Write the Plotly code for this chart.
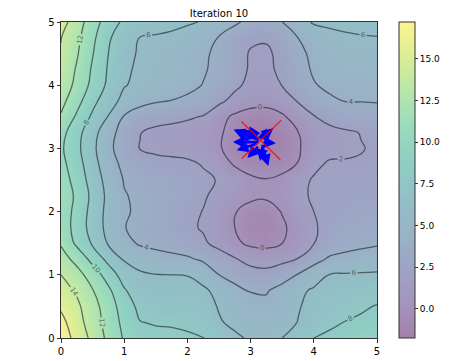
import plotly.graph_objects as go
import plotly.colors as pc

# grid coordinates
xs = [i * 0.25 for i in range(21)]
ys = [i * 0.25 for i in range(21)]

# surface values, rows from y=0 (bottom) to y=5 (top)
z_y000 = [17.2, 15.3, 13.5, 11.5, 9.8, 8.9, 8.5, 8.4, 8.25, 8.05, 7.3, 6.4, 5.7, 5.4, 6.0, 7.0, 8.0, 8.5, 8.9, 9.1, 9.3]
z_y025 = [16.6, 14.8, 13.0, 11.25, 9.45, 8.05, 7.85, 7.8, 7.65, 7.45, 6.2, 5.5, 5.05, 4.95, 5.3, 6.05, 6.9, 7.5, 8.05, 8.3, 8.6]
z_y050 = [15.7, 14.4, 12.75, 11.0, 9.05, 7.5, 7.25, 7.2, 7.05, 6.85, 5.85, 5.0, 4.55, 4.45, 4.9, 5.85, 6.6, 7.1, 7.45, 7.75, 8.1]
z_y075 = [14.8, 13.75, 12.1, 10.4, 8.2, 6.9, 6.65, 6.6, 6.5, 6.3, 5.5, 4.6, 3.9, 3.85, 4.7, 5.6, 6.25, 6.6, 6.85, 7.05, 7.2]
z_y100 = [14.0, 12.7, 11.1, 9.1, 7.1, 6.3, 6.05, 6.0, 5.95, 5.3, 4.0, 3.2, 2.6, 2.5, 3.1, 4.1, 5.1, 6.05, 6.15, 6.2, 6.25]
z_y125 = [12.8, 11.4, 9.35, 7.4, 5.8, 5.1, 4.6, 4.45, 4.25, 3.7, 2.8, 2.1, 1.5, 1.3, 1.55, 2.05, 3.3, 4.25, 4.5, 4.7, 4.9]
z_y150 = [11.8, 9.6, 7.75, 5.8, 4.55, 3.8, 3.6, 3.3, 2.85, 2.25, 1.5, 0.4, -0.4, -0.6, 0.0, 1.0, 1.95, 2.9, 3.35, 3.6, 3.8]
z_y175 = [11.3, 9.2, 7.25, 5.4, 4.05, 3.6, 3.15, 2.75, 2.3, 1.85, 1.0, 0.0, -0.8, -0.95, -0.3, 0.75, 1.8, 2.6, 3.0, 3.2, 3.3]
z_y200 = [11.2, 9.4, 7.3, 5.4, 4.2, 3.7, 3.3, 2.9, 2.45, 1.95, 1.2, 0.1, -0.65, -0.8, 0.1, 1.2, 2.0, 2.45, 2.7, 2.8, 2.9]
z_y225 = [11.4, 9.6, 7.5, 5.5, 4.1, 3.7, 3.35, 3.0, 2.65, 2.2, 1.5, 0.85, 0.4, 0.3, 0.65, 1.55, 2.25, 2.45, 2.5, 2.55, 2.6]
z_y250 = [11.0, 9.25, 7.15, 5.25, 3.9, 3.45, 3.15, 2.9, 2.65, 2.3, 1.9, 1.2, 0.35, 0.08, 0.4, 1.5, 2.15, 2.3, 2.3, 2.35, 2.4]
z_y275 = [10.6, 8.85, 6.75, 4.8, 3.55, 2.9, 2.55, 2.4, 2.3, 1.9, 1.0, -0.2, -0.8, -0.9, -0.6, 0.05, 1.65, 2.2, 2.15, 2.1, 2.2]
z_y300 = [10.3, 8.5, 6.45, 4.45, 3.05, 1.95, 1.65, 1.55, 1.4, 1.0, 0.2, -0.9, -1.5, -1.75, -1.2, -0.2, 1.0, 1.5, 1.7, 1.95, 2.15]
z_y325 = [10.7, 8.65, 6.75, 4.65, 3.3, 2.05, 1.6, 1.45, 1.3, 1.0, 0.3, -0.8, -1.5, -1.7, -1.1, -0.05, 1.0, 1.5, 1.8, 2.05, 2.3]
z_y350 = [11.8, 9.7, 7.65, 5.9, 3.85, 3.0, 2.65, 2.45, 2.2, 1.9, 0.65, -0.35, -0.9, -0.95, -0.3, 0.9, 1.9, 2.55, 2.9, 3.1, 3.3]
z_y375 = [12.6, 10.7, 8.55, 6.85, 5.45, 4.6, 4.15, 3.95, 3.7, 3.2, 2.4, 1.4, 0.8, 0.7, 1.2, 2.1, 3.1, 3.75, 4.05, 4.05, 4.1]
z_y400 = [13.2, 11.5, 9.45, 7.6, 6.1, 5.6, 5.2, 4.8, 4.4, 3.95, 3.3, 2.4, 1.5, 1.3, 2.05, 3.0, 3.9, 4.3, 4.45, 4.5, 4.6]
z_y425 = [13.6, 11.8, 9.75, 7.8, 6.3, 5.7, 5.35, 5.0, 4.6, 4.15, 3.6, 2.75, 1.8, 1.6, 2.4, 3.35, 4.2, 4.6, 4.8, 4.9, 5.0]
z_y450 = [13.9, 12.2, 10.1, 8.0, 6.4, 5.85, 5.5, 5.15, 4.75, 4.25, 3.65, 2.75, 1.85, 1.7, 2.5, 3.55, 4.4, 4.85, 5.1, 5.25, 5.4]
z_y475 = [14.05, 12.5, 10.45, 8.25, 6.9, 5.95, 5.85, 5.7, 5.35, 4.8, 3.9, 3.0, 2.3, 2.2, 3.0, 4.0, 4.9, 5.4, 5.75, 5.9, 5.95]
z_y500 = [14.8, 13.0, 10.85, 9.1, 7.6, 6.9, 6.6, 6.4, 6.2, 5.9, 5.0, 4.3, 3.5, 3.3, 4.0, 5.2, 6.2, 6.4, 6.45, 6.45, 6.5]

Z = [z_y000, z_y025, z_y050, z_y075, z_y100, z_y125, z_y150, z_y175, z_y200, z_y225,
     z_y250, z_y275, z_y300, z_y325, z_y350, z_y375, z_y400, z_y425, z_y450, z_y475, z_y500]

z_min = -1.75
z_max = 17.2
contour_levels = dict(start=0, end=16, size=2)
cbar_ticks = [0, 2.5, 5.0, 7.5, 10.0, 12.5, 15.0]
cbar_labels = ["0.0", "2.5", "5.0", "7.5", "10.0", "12.5", "15.0"]
axis_ticks = [0, 1, 2, 3, 4, 5]

# quiver arrows (tail -> tip)
arrow_tail_x = [3.15, 3.15, 3.12, 3.18, 3.15, 3.12, 3.18, 3.14, 3.10, 3.20, 3.20, 3.13]
arrow_tail_y = [3.12, 3.10, 3.08, 3.05, 3.15, 3.12, 3.10, 3.05, 3.15, 3.08, 3.15, 3.18]
arrow_tip_x = [2.73, 2.72, 2.78, 3.28, 3.36, 2.98, 3.40, 2.95, 2.80, 3.15, 3.25, 2.85]
arrow_tip_y = [3.30, 3.10, 2.97, 2.72, 3.32, 3.35, 3.08, 2.85, 3.22, 2.80, 3.32, 3.28]

# red cross lines
red_x0 = [2.83, 3.51]
red_y0 = [3.45, 3.47]
red_x1 = [3.47, 2.86]
red_y1 = [2.82, 2.84]


def blend(hexcol, a=0.5):
    r, g, b = pc.hex_to_rgb(hexcol)
    return "rgb(%d,%d,%d)" % (round(r * a + 255 * (1 - a)), round(g * a + 255 * (1 - a)), round(b * a + 255 * (1 - a)))


vir = pc.sequential.Viridis
cscale = [[i / (len(vir) - 1), blend(c)] for i, c in enumerate(vir)]

fig = go.Figure()
fig.add_trace(go.Heatmap(
    x=xs, y=ys, z=Z, colorscale=cscale, zmin=z_min, zmax=z_max, zsmooth="best",
    hoverinfo="skip",
    colorbar=dict(
        thickness=16, len=1, lenmode="fraction", y=0.5, yanchor="middle",
        x=1.07, xanchor="left", xpad=0, ypad=0,
        outlinewidth=1, outlinecolor="#333",
        tickvals=cbar_ticks, ticktext=cbar_labels, ticks="outside", ticklen=3,
        tickcolor="#333", tickfont=dict(size=9, color="black", family="DejaVu Sans"),
    ),
))
fig.add_trace(go.Contour(
    x=xs, y=ys, z=Z, showscale=False, hoverinfo="skip",
    contours=dict(start=contour_levels["start"], end=contour_levels["end"], size=contour_levels["size"],
                  coloring="none", showlabels=True,
                  labelfont=dict(size=7, color="rgba(60,60,60,0.75)", family="DejaVu Sans")),
    line=dict(color="rgba(30,35,45,0.62)", width=1.3, smoothing=1.3),
))

ann = []
for tx, ty, hx, hy in zip(arrow_tail_x, arrow_tail_y, arrow_tip_x, arrow_tip_y):
    ann.append(dict(x=hx, y=hy, ax=tx, ay=ty, xref="x", yref="y", axref="x", ayref="y",
                    text="", showarrow=True, arrowhead=2, arrowsize=0.9, arrowwidth=2.6,
                    arrowcolor="blue", standoff=0, startstandoff=0))
for x0, y0, x1, y1 in zip(red_x0, red_y0, red_x1, red_y1):
    ann.append(dict(x=x1, y=y1, ax=x0, ay=y0, xref="x", yref="y", axref="x", ayref="y",
                    text="", showarrow=True, arrowhead=0, arrowwidth=1.3,
                    arrowcolor="rgba(255,0,0,0.8)", standoff=0, startstandoff=0))

axis_style = dict(range=[0, 5], tickvals=axis_ticks, ticks="outside", ticklen=3.5, tickcolor="#333",
                  showline=True, mirror=True, linecolor="#333", linewidth=1,
                  showgrid=False, zeroline=False, automargin=False,
                  tickfont=dict(size=10, color="black", family="DejaVu Sans"))

fig.update_layout(
    width=474, height=361,
    margin=dict(l=61, r=97, t=22, b=23, autoexpand=False),
    paper_bgcolor="white", plot_bgcolor="white",
    title=dict(text="Iteration 10", x=0.5, xref="paper", xanchor="center",
               y=1 - 13 / 361, yref="container", yanchor="middle",
               font=dict(size=10, color="black", family="DejaVu Sans")),
    xaxis=axis_style, yaxis=axis_style,
    annotations=ann,
    showlegend=False,
)
fig.write_html(
    "out.html",
    config={"displayModeBar": False},
    post_script="document.body.style.margin='0';document.body.style.padding='0';document.body.style.overflow='hidden';",
)
